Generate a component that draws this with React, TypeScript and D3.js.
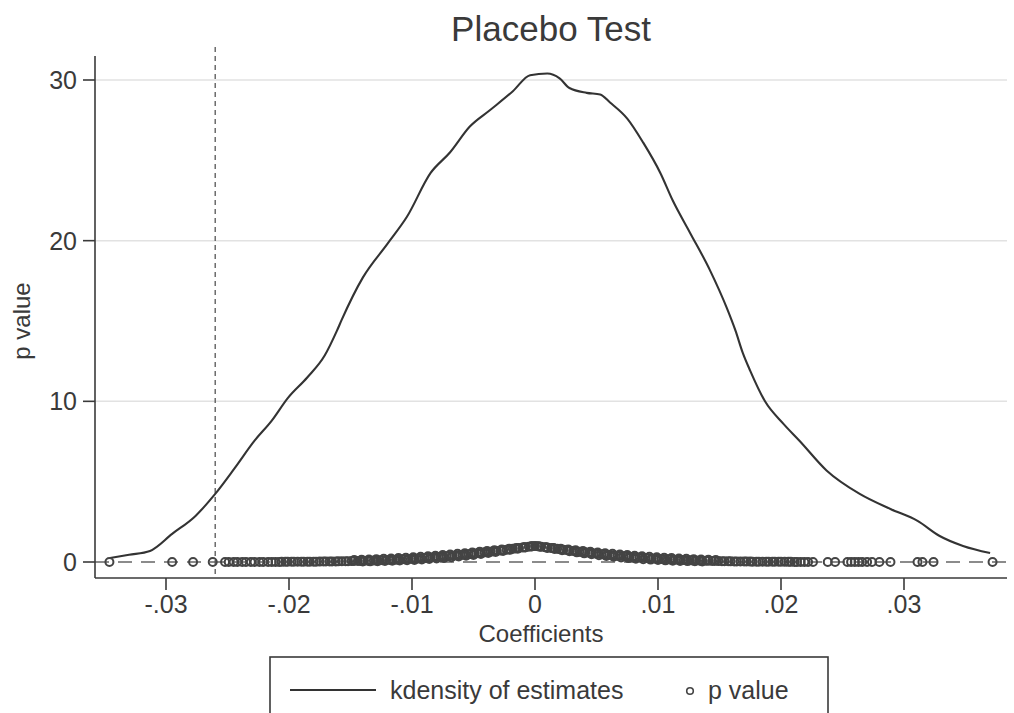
import React from 'react';
import * as d3 from 'd3';

// Kernel density of placebo estimates (coefficient, density)
const densityCoef = [
  -0.03455, -0.0330, -0.0313, -0.0295, -0.0276, -0.0260, -0.0244, -0.0228, -0.0214, -0.0201,
  -0.0185, -0.0171, -0.0161, -0.0157, -0.0140, -0.0120, -0.0104, -0.0085, -0.0069, -0.0053,
  -0.0037, -0.0018, -0.0004, 0.0010, 0.0020, 0.0028, 0.0042, 0.0053, 0.0061, 0.0075,
  0.0088, 0.0102, 0.0112, 0.0126, 0.0142, 0.0156, 0.0163, 0.0169, 0.0175, 0.0187,
  0.0202, 0.0215, 0.0237, 0.0264, 0.0289, 0.0311, 0.0329, 0.0348, 0.0370,
];
const densityVal = [
  0.25, 0.45, 0.69, 1.75, 2.87, 4.24, 5.86, 7.55, 8.8, 10.2,
  11.5, 12.85, 14.4, 15.1, 17.7, 19.8, 21.5, 24.2, 25.5, 27.1,
  28.1, 29.3, 30.3, 30.4, 30.1, 29.5, 29.2, 29.1, 28.6, 27.6,
  26.1, 24.2, 22.5, 20.5, 18.2, 15.8, 14.4, 13.0, 11.9, 10.0,
  8.6, 7.55, 5.7, 4.24, 3.3, 2.56, 1.62, 1.0, 0.56,
];

// p values of the placebo estimates: [coefficient, p value]
const pvaluePoints: [number, number][] = [
  [-0.0346, 0.000], [-0.0295, 0.000], [-0.0278, 0.001], [-0.0262, 0.001],
  [-0.0252, 0.001], [-0.0249, 0.001], [-0.0245, 0.002], [-0.0242, 0.002], [-0.0238, 0.002], [-0.0235, 0.002],
  [-0.0231, 0.003], [-0.0228, 0.003], [-0.0224, 0.004], [-0.0221, 0.004], [-0.0217, 0.005], [-0.0214, 0.006],
  [-0.0211, 0.006], [-0.0208, 0.007], [-0.0206, 0.008], [-0.0203, 0.009], [-0.0201, 0.010], [-0.0198, 0.011],
  [-0.0196, 0.011], [-0.0193, 0.013], [-0.0190, 0.014], [-0.0188, 0.015], [-0.0185, 0.017], [-0.0183, 0.018],
  [-0.0180, 0.021], [-0.0178, 0.022], [-0.0175, 0.024], [-0.0172, 0.027], [-0.0170, 0.029], [-0.0167, 0.031],
  [-0.0165, 0.033], [-0.0162, 0.037], [-0.0160, 0.040], [-0.0157, 0.043], [-0.0154, 0.048], [-0.0152, 0.051],
  [-0.0149, 0.055], [-0.0147, 0.058], [-0.0144, 0.064], [-0.0142, 0.068], [-0.0139, 0.074], [-0.0136, 0.080],
  [-0.0134, 0.085], [-0.0131, 0.092], [-0.0129, 0.098], [-0.0126, 0.106], [-0.0124, 0.111], [-0.0121, 0.120],
  [-0.0118, 0.129], [-0.0116, 0.135], [-0.0113, 0.145], [-0.0111, 0.152], [-0.0108, 0.164], [-0.0106, 0.172],
  [-0.0103, 0.185], [-0.0100, 0.200], [-0.0098, 0.208], [-0.0095, 0.222], [-0.0093, 0.232], [-0.0090, 0.249],
  [-0.0088, 0.260], [-0.0085, 0.276], [-0.0082, 0.293], [-0.0080, 0.305], [-0.0077, 0.323], [-0.0075, 0.336],
  [-0.0072, 0.356], [-0.0070, 0.370], [-0.0067, 0.390], [-0.0064, 0.411], [-0.0062, 0.426], [-0.0059, 0.449],
  [-0.0057, 0.464], [-0.0054, 0.487], [-0.0052, 0.503], [-0.0049, 0.530], [-0.0046, 0.556], [-0.0044, 0.573],
  [-0.0041, 0.600], [-0.0039, 0.619], [-0.0036, 0.645], [-0.0034, 0.663], [-0.0031, 0.690], [-0.0028, 0.720],
  [-0.0026, 0.740], [-0.0023, 0.770], [-0.0021, 0.790], [-0.0018, 0.820], [-0.0016, 0.840], [-0.0013, 0.870],
  [-0.0010, 0.900], [-0.0008, 0.920], [-0.0005, 0.950], [-0.0003, 0.970], [0.0000, 0.995], [0.0002, 0.980],
  [0.0005, 0.950], [0.0008, 0.920], [0.0010, 0.900], [0.0013, 0.870], [0.0015, 0.850], [0.0018, 0.820],
  [0.0020, 0.800], [0.0023, 0.770], [0.0026, 0.740], [0.0028, 0.720], [0.0031, 0.690], [0.0033, 0.672],
  [0.0036, 0.645], [0.0038, 0.627], [0.0041, 0.600], [0.0044, 0.573], [0.0046, 0.556], [0.0049, 0.530],
  [0.0051, 0.512], [0.0054, 0.487], [0.0056, 0.472], [0.0059, 0.449], [0.0062, 0.426], [0.0064, 0.411],
  [0.0067, 0.390], [0.0069, 0.377], [0.0072, 0.356], [0.0074, 0.343], [0.0077, 0.323], [0.0080, 0.305],
  [0.0082, 0.293], [0.0085, 0.276], [0.0087, 0.266], [0.0090, 0.249], [0.0092, 0.239], [0.0095, 0.222],
  [0.0098, 0.208], [0.0100, 0.200], [0.0103, 0.185], [0.0105, 0.176], [0.0108, 0.164], [0.0110, 0.158],
  [0.0113, 0.145], [0.0116, 0.135], [0.0118, 0.129], [0.0121, 0.120], [0.0123, 0.115], [0.0126, 0.106],
  [0.0128, 0.101], [0.0131, 0.092], [0.0134, 0.085], [0.0136, 0.080], [0.0139, 0.074], [0.0141, 0.071],
  [0.0144, 0.064], [0.0146, 0.060], [0.0149, 0.055], [0.0152, 0.051], [0.0154, 0.048], [0.0157, 0.043],
  [0.0159, 0.041], [0.0162, 0.037], [0.0164, 0.035], [0.0167, 0.031], [0.0170, 0.029], [0.0172, 0.027],
  [0.0175, 0.024], [0.0177, 0.023], [0.0180, 0.021], [0.0182, 0.019], [0.0185, 0.017], [0.0188, 0.016],
  [0.0190, 0.015], [0.0193, 0.013], [0.0195, 0.012], [0.0198, 0.011], [0.0200, 0.010], [0.0203, 0.009],
  [0.0206, 0.008], [0.0208, 0.008], [0.0211, 0.007], [0.0213, 0.006], [0.0216, 0.006], [0.0219, 0.005],
  [0.0222, 0.005], [0.0226, 0.004], [0.0238, 0.003], [0.0244, 0.002], [0.0254, 0.001], [0.0257, 0.001],
  [0.0260, 0.001], [0.0263, 0.001], [0.0266, 0.001], [0.0270, 0.001], [0.0274, 0.001], [0.0280, 0.000],
  [0.0289, 0.000], [0.0311, 0.000], [0.0315, 0.000], [0.0324, 0.000], [0.0372, 0.000],
  // lower spread of p values near zero
  [-0.0140, 0.031], [-0.0134, 0.039], [-0.0128, 0.049], [-0.0122, 0.060], [-0.0116, 0.074], [-0.0110, 0.091],
  [-0.0104, 0.109], [-0.0098, 0.131], [-0.0092, 0.157], [-0.0086, 0.186], [-0.0080, 0.218], [-0.0074, 0.255],
  [-0.0068, 0.295], [-0.0062, 0.340], [-0.0056, 0.389], [-0.0050, 0.441], [-0.0044, 0.498], [-0.0038, 0.558],
  [-0.0032, 0.622], [-0.0026, 0.689], [-0.0020, 0.758], [-0.0014, 0.830], [-0.0008, 0.902], [-0.0002, 0.975],
  [0.0004, 0.951], [0.0010, 0.878], [0.0016, 0.806], [0.0022, 0.735], [0.0028, 0.667], [0.0034, 0.601],
  [0.0040, 0.538], [0.0046, 0.479], [0.0052, 0.424], [0.0058, 0.372], [0.0064, 0.325], [0.0070, 0.282],
  [0.0076, 0.242], [0.0082, 0.207], [0.0088, 0.176], [0.0094, 0.148], [0.0100, 0.124], [0.0106, 0.103],
  [0.0112, 0.085], [0.0118, 0.069], [0.0124, 0.056], [0.0130, 0.046], [0.0136, 0.037],
  // upper spread of p values near zero
  [-0.0147, 0.122], [-0.0141, 0.137], [-0.0135, 0.155], [-0.0129, 0.174], [-0.0123, 0.195], [-0.0117, 0.218],
  [-0.0111, 0.243], [-0.0105, 0.269], [-0.0099, 0.297], [-0.0093, 0.328], [-0.0087, 0.360], [-0.0081, 0.394],
  [-0.0075, 0.430], [-0.0069, 0.468], [-0.0063, 0.507], [-0.0057, 0.549], [-0.0051, 0.591], [-0.0045, 0.635],
  [-0.0039, 0.681], [-0.0033, 0.728], [-0.0027, 0.776], [-0.0021, 0.825], [-0.0015, 0.875], [-0.0009, 0.925],
  [-0.0003, 0.975], [0.0003, 0.975], [0.0009, 0.925], [0.0015, 0.875], [0.0021, 0.825], [0.0027, 0.776],
  [0.0033, 0.728], [0.0039, 0.681], [0.0045, 0.635], [0.0051, 0.591], [0.0057, 0.549], [0.0063, 0.507],
  [0.0069, 0.468], [0.0075, 0.430], [0.0081, 0.394], [0.0087, 0.360], [0.0093, 0.328], [0.0099, 0.297],
  [0.0105, 0.269], [0.0111, 0.243], [0.0117, 0.218], [0.0123, 0.195], [0.0129, 0.174], [0.0135, 0.155],
  [0.0141, 0.137], [0.0147, 0.122],
];

const xTicks = [-0.03, -0.02, -0.01, 0, 0.01, 0.02, 0.03];
const xTickLabels = ['-.03', '-.02', '-.01', '0', '.01', '.02', '.03'];
const yTicks = [0, 10, 20, 30];
const yTickLabels = ['0', '10', '20', '30'];
const gridValues = [10, 20, 30];
const actualEstimate = -0.026;
const pRefLine = 0;

const titleText = 'Placebo Test';
const xTitle = 'Coefficients';
const yTitle = 'p value';
const legendLabels = ['kdensity of estimates', 'p value'];

const FONT = '"Liberation Sans", Arial, Helvetica, sans-serif';
const INK = '#3a3a3a';

export default function App() {
  const W = 1014;
  const H = 713;
  const left = 95;
  const right = 1007;
  const top = 56;
  const bottom = 578;

  const x = d3.scaleLinear().domain([-0.03, 0.03]).range([166, 904]);
  const y = d3.scaleLinear().domain([0, 30]).range([562, 80]);

  const densityData = densityCoef.map((c, i) => [c, densityVal[i]] as [number, number]);
  const line = d3
    .line<[number, number]>()
    .x((d) => x(d[0]))
    .y((d) => y(d[1]))
    .curve(d3.curveMonotoneX);

  return (
    <svg
      width={W}
      height={H}
      viewBox={`0 0 ${W} ${H}`}
      style={{ position: 'absolute', left: 0, top: 0, background: '#fff' }}
      fontFamily={FONT}
    >
      <rect x={0} y={0} width={W} height={H} fill="#fff" />
      {/* title */}
      <text x={(left + right) / 2} y={41} textAnchor="middle" fontSize={35} fill={INK}>
        {titleText}
      </text>

      {/* grid */}
      {gridValues.map((v) => (
        <line key={v} x1={left} x2={right} y1={y(v)} y2={y(v)} stroke="#e2e2e2" strokeWidth={1.5} />
      ))}

      {/* reference lines */}
      <line
        x1={left}
        x2={right}
        y1={y(pRefLine)}
        y2={y(pRefLine)}
        stroke="#666"
        strokeWidth={1.5}
        strokeDasharray="14,9"
      />
      <line
        x1={x(actualEstimate)}
        x2={x(actualEstimate)}
        y1={47}
        y2={bottom}
        stroke="#555"
        strokeWidth={1.3}
        strokeDasharray="5,4"
      />

      {/* density */}
      <path d={line(densityData) || ''} fill="none" stroke="#333" strokeWidth={2.1} />

      {/* p values */}
      <g fill="none" stroke="#444" strokeWidth={2}>
        {pvaluePoints.map((d, i) => (
          <circle key={i} cx={x(d[0])} cy={y(d[1])} r={4} />
        ))}
      </g>

      {/* axes */}
      <line x1={left} x2={left} y1={top} y2={bottom} stroke={INK} strokeWidth={1.6} />
      <line x1={left} x2={right} y1={bottom} y2={bottom} stroke={INK} strokeWidth={1.6} />
      {yTicks.map((v, i) => (
        <g key={v}>
          <line x1={left - 12} x2={left} y1={y(v)} y2={y(v)} stroke={INK} strokeWidth={1.6} />
          <text x={left - 18} y={y(v) + 9} textAnchor="end" fontSize={25} fill={INK}>
            {yTickLabels[i]}
          </text>
        </g>
      ))}
      {xTicks.map((v, i) => (
        <g key={v}>
          <line x1={x(v)} x2={x(v)} y1={bottom} y2={bottom + 12} stroke={INK} strokeWidth={1.6} />
          <text x={x(v)} y={613} textAnchor="middle" fontSize={25} fill={INK}>
            {xTickLabels[i]}
          </text>
        </g>
      ))}
      <text x={(left + right) / 2 - 10} y={642} textAnchor="middle" fontSize={24} fill={INK}>
        {xTitle}
      </text>
      <text
        transform={`translate(30, ${(top + bottom) / 2 + 4}) rotate(-90)`}
        textAnchor="middle"
        fontSize={24}
        fill={INK}
      >
        {yTitle}
      </text>

      {/* legend */}
      <rect x={270} y={657} width={558} height={70} fill="#fff" stroke={INK} strokeWidth={1.6} />
      <line x1={290} x2={376} y1={690} y2={690} stroke="#333" strokeWidth={2} />
      <text x={390} y={699} fontSize={25} fill={INK}>
        {legendLabels[0]}
      </text>
      <circle cx={690} cy={691} r={3.3} fill="none" stroke="#444" strokeWidth={1.6} />
      <text x={708} y={699} fontSize={25} fill={INK}>
        {legendLabels[1]}
      </text>
    </svg>
  );
}
